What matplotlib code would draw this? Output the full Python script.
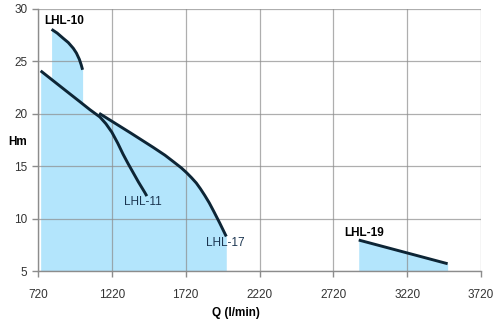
import matplotlib.pyplot as plt

plt.rcParams['font.family'] = ['Liberation Sans', 'DejaVu Sans']

# pump curves: flow Q (l/min), head H (m)
q_10 = [812, 850, 891, 925, 959, 980, 1000, 1012, 1022]
h_10 = [28.06, 27.7, 27.2, 26.8, 26.25, 25.8, 25.2, 24.7, 24.2]

q_11 = [738, 900, 1004, 1071, 1139, 1180, 1220, 1260, 1296, 1330, 1364,
        1400, 1443, 1457]
h_11 = [24.1, 22.3, 21.15, 20.4, 19.7, 19.05, 18.25, 17.2, 16.15, 15.25,
        14.4, 13.5, 12.5, 12.15]

q_17 = [1134, 1350, 1500, 1580, 1640, 1690, 1725, 1760, 1792, 1820, 1850,
        1880, 1910, 1950, 1995]
h_17 = [20.05, 18.15, 16.8, 16.05, 15.4, 14.85, 14.4, 13.9, 13.4, 12.85,
        12.2, 11.5, 10.7, 9.6, 8.3]

q_19 = [2892, 3494]
h_19 = [7.96, 5.7]

series = [(q_10, h_10), (q_11, h_11), (q_17, h_17), (q_19, h_19)]
labels = [('LHL-10', 895, 28.85, 'bold', 'black'),
          ('LHL-11', 1430, 11.6, 'normal', '#1b3550'),
          ('LHL-17', 1990, 7.67, 'normal', '#1b3550'),
          ('LHL-19', 2930, 8.6, 'bold', 'black')]

xticks = [720, 1220, 1720, 2220, 2720, 3220, 3720]
yticks = [5, 10, 15, 20, 25, 30]

fig = plt.figure(figsize=(5, 3.33), dpi=100)
ax = fig.add_axes([0.076, 0.186, 0.886, 0.787])

for q, h in series:
    ax.fill_between(q, h, 5, color='#b3e5fc', lw=0, zorder=1)
for q, h in series:
    ax.plot(q, h, color='#0d2535', lw=2.1, solid_capstyle='butt',
            solid_joinstyle='round', zorder=3)

for text, x, y, weight, col in labels:
    ax.text(x, y, text, ha='center', va='center', fontsize=8.5,
            fontweight=weight, color=col, zorder=4)

ax.set_xlim(720, 3720)
ax.set_ylim(5, 30)
ax.set_xticks(xticks)
ax.set_yticks(yticks)
ax.grid(True, color='#8c8c8c', lw=0.9, alpha=0.7, zorder=2)
ax.set_axisbelow(False)
for s in ['top', 'right']:
    ax.spines[s].set_visible(False)
for s in ['left', 'bottom']:
    ax.spines[s].set_color('#8c8c8c')
    ax.spines[s].set_linewidth(1.0)
ax.tick_params(colors='#8c8c8c', labelcolor='#333333', labelsize=8.5,
               length=4, width=1.0)
ax.tick_params(axis='x', pad=9)

fig.text(236 / 500, 1 - 313 / 333, 'Q (l/min)', fontsize=8.5,
         fontweight='bold', ha='center', va='center')
fig.text(18 / 500, 1 - 142 / 333, 'Hm', fontsize=8.5,
         fontweight='bold', ha='center', va='center')

fig.savefig('out.png', dpi=100)
